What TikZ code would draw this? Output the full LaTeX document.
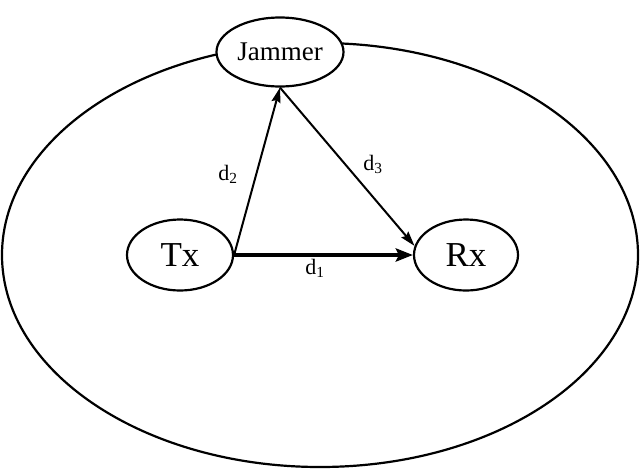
\documentclass[tikz,border=0pt]{standalone}
\usepackage{fontspec}
\setmainfont{Liberation Serif}
\usetikzlibrary{shapes.geometric,arrows.meta}
\begin{document}
\begin{tikzpicture}[x=1pt,y=-1pt,
  ell/.style={draw,ellipse,line width=2.2pt,inner sep=0pt},
  arr/.style={line width=2pt,-{Stealth[length=15pt,width=9pt,inset=2pt]}},
  lbl/.style={font=\fontsize{22}{24}\selectfont,inner sep=0pt}]
\useasboundingbox (0,0) rectangle (642,472);
\node[ell,minimum width=636pt,minimum height=424pt] (area) at (320,255) {};
\node[ell,fill=white,minimum width=127pt,minimum height=69pt,font=\fontsize{27}{30}\selectfont] (J) at (280,52) {Jammer};
\node[ell,minimum width=106pt,minimum height=71pt,font=\fontsize{35}{38}\selectfont] (Tx) at (180,255) {Tx};
\node[ell,minimum width=104pt,minimum height=71pt,font=\fontsize{35}{38}\selectfont] (Rx) at (466,255) {Rx};
\draw[arr,line width=4pt,-{Stealth[length=17pt,width=13pt,inset=3pt]}] (Tx.east) -- (Rx.west);
\draw[arr] (Tx.east) -- (J.south);
\draw[arr] (J.south) -- (Rx.170);
\node[lbl] (l1) at (315,268) {d\textsubscript{1}};
\node[lbl] (l2) at (228,174) {d\textsubscript{2}};
\node[lbl] (l3) at (373,164) {d\textsubscript{3}};
\end{tikzpicture}
\end{document}
